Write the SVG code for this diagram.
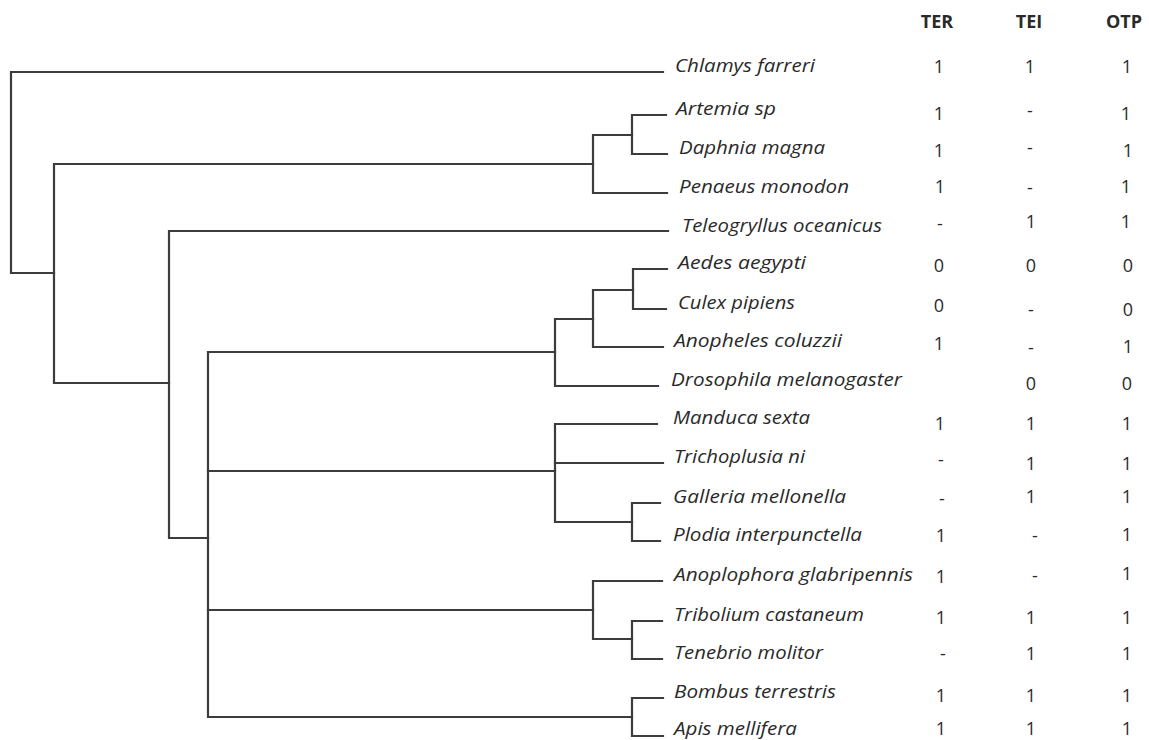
<svg xmlns="http://www.w3.org/2000/svg" width="1149" height="740" viewBox="0 0 1149 740">
<style>
.br{fill:none;stroke:#3c3c3c;stroke-width:2.2;stroke-linecap:square}
.sp{font-family:"Open Sans","Noto Sans",sans-serif;font-style:italic;font-size:18px;fill:#2a2a2a}
.v{font-family:"Open Sans","Noto Sans",sans-serif;font-size:18px;fill:#2a2a2a;text-anchor:middle}
.h{font-family:"Open Sans","Noto Sans",sans-serif;font-size:18px;font-weight:bold;fill:#2a2a2a;text-anchor:middle}
</style>
<rect width="1149" height="740" fill="#fff"/>
<g id="header">
<text class="h" x="937" y="28">TER</text>
<text class="h" x="1029" y="28">TEI</text>
<text class="h" x="1124" y="28">OTP</text>
</g>
<g id="connectors">
<path class="br" d="M663,72 H11 V273 H54"/>
<path class="br" d="M593,164 H54 V383 H169"/>
<path class="br" d="M632,135 H593 V193 H667"/>
<path class="br" d="M666,115 H632 V154 H667"/>
<path class="br" d="M668,231 H169 V538 H208"/>
<path class="br" d="M555,352 H208 V717 H632"/>
<path class="br" d="M208,471 H555"/>
<path class="br" d="M208,610 H593"/>
<path class="br" d="M593,319 H555 V386 H658"/>
<path class="br" d="M633,290 H593 V347 H663"/>
<path class="br" d="M667,269 H633 V309 H666"/>
<path class="br" d="M657,424 H555 V522 H632"/>
<path class="br" d="M555,463 H663"/>
<path class="br" d="M660,503 H632 V541 H660"/>
<path class="br" d="M662,581 H593 V639 H632"/>
<path class="br" d="M662,621 H632 V659 H662"/>
<path class="br" d="M663,698 H632 V736 H663"/>
</g>
<g id="chlamys"><text class="sp" x="675" y="72" textLength="140" lengthAdjust="spacingAndGlyphs">Chlamys farreri</text>
<text class="v" x="939" y="73">1</text><text class="v" x="1030" y="73">1</text><text class="v" x="1127" y="73">1</text></g>
<g id="artemia"><text class="sp" x="676" y="115" textLength="100" lengthAdjust="spacingAndGlyphs">Artemia sp</text>
<text class="v" x="939" y="120">1</text><text class="v" x="1030" y="117">-</text><text class="v" x="1126" y="120">1</text></g>
<g id="daphnia"><text class="sp" x="679" y="154" textLength="146" lengthAdjust="spacingAndGlyphs">Daphnia magna</text>
<text class="v" x="939" y="157">1</text><text class="v" x="1030" y="154">-</text><text class="v" x="1128" y="157">1</text></g>
<g id="penaeus"><text class="sp" x="679" y="193" textLength="170" lengthAdjust="spacingAndGlyphs">Penaeus monodon</text>
<text class="v" x="940" y="193">1</text><text class="v" x="1030" y="194">-</text><text class="v" x="1126" y="193">1</text></g>
<g id="teleogryllus"><text class="sp" x="682" y="232" textLength="200" lengthAdjust="spacingAndGlyphs">Teleogryllus oceanicus</text>
<text class="v" x="940" y="230">-</text><text class="v" x="1031" y="228">1</text><text class="v" x="1126" y="228">1</text></g>
<g id="aedes"><text class="sp" x="678" y="269" textLength="128" lengthAdjust="spacingAndGlyphs">Aedes aegypti</text>
<text class="v" x="939" y="272">0</text><text class="v" x="1031" y="272">0</text><text class="v" x="1128" y="272">0</text></g>
<g id="culex"><text class="sp" x="678" y="309" textLength="117" lengthAdjust="spacingAndGlyphs">Culex pipiens</text>
<text class="v" x="939" y="312">0</text><text class="v" x="1031" y="316">-</text><text class="v" x="1128" y="316">0</text></g>
<g id="anopheles"><text class="sp" x="674" y="347" textLength="168" lengthAdjust="spacingAndGlyphs">Anopheles coluzzii</text>
<text class="v" x="939" y="350">1</text><text class="v" x="1031" y="354">-</text><text class="v" x="1128" y="353">1</text></g>
<g id="drosophila"><text class="sp" x="671" y="386" textLength="231" lengthAdjust="spacingAndGlyphs">Drosophila melanogaster</text>
<text class="v" x="1031" y="390">0</text><text class="v" x="1127" y="390">0</text></g>
<g id="manduca"><text class="sp" x="673" y="424" textLength="137" lengthAdjust="spacingAndGlyphs">Manduca sexta</text>
<text class="v" x="940" y="430">1</text><text class="v" x="1031" y="430">1</text><text class="v" x="1127" y="430">1</text></g>
<g id="trichoplusia"><text class="sp" x="674" y="463" textLength="131" lengthAdjust="spacingAndGlyphs">Trichoplusia ni</text>
<text class="v" x="941" y="466">-</text><text class="v" x="1031" y="470">1</text><text class="v" x="1127" y="470">1</text></g>
<g id="galleria"><text class="sp" x="673" y="503" textLength="173" lengthAdjust="spacingAndGlyphs">Galleria mellonella</text>
<text class="v" x="942" y="505">-</text><text class="v" x="1031" y="503">1</text><text class="v" x="1127" y="503">1</text></g>
<g id="plodia"><text class="sp" x="673" y="541" textLength="189" lengthAdjust="spacingAndGlyphs">Plodia interpunctella</text>
<text class="v" x="941" y="542">1</text><text class="v" x="1035" y="542">-</text><text class="v" x="1127" y="541">1</text></g>
<g id="anoplophora"><text class="sp" x="674" y="581" textLength="239" lengthAdjust="spacingAndGlyphs">Anoplophora glabripennis</text>
<text class="v" x="941" y="583">1</text><text class="v" x="1035" y="582">-</text><text class="v" x="1127" y="580">1</text></g>
<g id="tribolium"><text class="sp" x="674" y="621" textLength="190" lengthAdjust="spacingAndGlyphs">Tribolium castaneum</text>
<text class="v" x="941" y="624">1</text><text class="v" x="1031" y="624">1</text><text class="v" x="1127" y="624">1</text></g>
<g id="tenebrio"><text class="sp" x="674" y="659" textLength="149" lengthAdjust="spacingAndGlyphs">Tenebrio molitor</text>
<text class="v" x="943" y="660">-</text><text class="v" x="1031" y="660">1</text><text class="v" x="1127" y="660">1</text></g>
<g id="bombus"><text class="sp" x="674" y="698" textLength="162" lengthAdjust="spacingAndGlyphs">Bombus terrestris</text>
<text class="v" x="941" y="702">1</text><text class="v" x="1031" y="702">1</text><text class="v" x="1127" y="702">1</text></g>
<g id="apis"><text class="sp" x="674" y="735" textLength="123" lengthAdjust="spacingAndGlyphs">Apis mellifera</text>
<text class="v" x="941" y="735">1</text><text class="v" x="1031" y="735">1</text><text class="v" x="1127" y="735">1</text></g>
</svg>
